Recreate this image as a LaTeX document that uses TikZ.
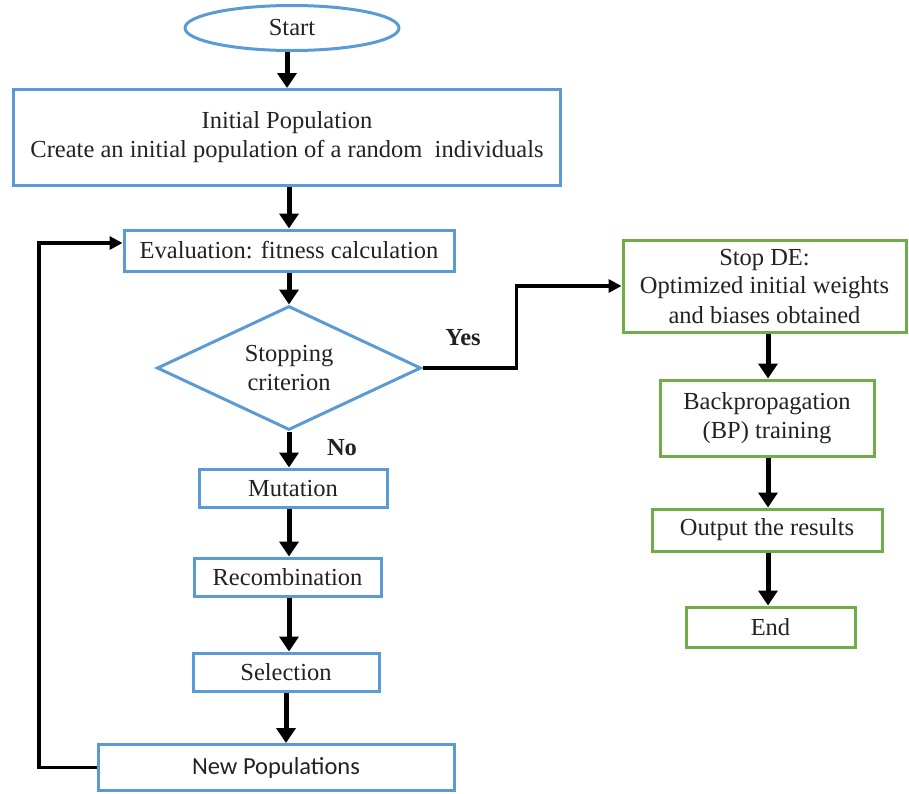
\documentclass[tikz,border=0pt]{standalone}
\usepackage{fontspec}
\setmainfont{Liberation Serif}
\newfontfamily\calib{Carlito}
\usetikzlibrary{arrows.meta,shapes.geometric}
\definecolor{bblue}{HTML}{5B9BD5}
\definecolor{bgreen}{HTML}{70AD47}
\definecolor{txt}{HTML}{222222}
\tikzset{
  box/.style={draw=bblue, line width=3pt, rectangle, inner sep=0pt, align=center, text=txt,
    font=\fontsize{24.5}{29}\selectfont},
  gbox/.style={box, draw=bgreen},
  bigarrow/.style={line width=5pt, -{Triangle[width=19pt,length=15pt]}},
  thinarrow/.style={line width=3.5pt, -{Triangle[width=13pt,length=13pt]}},
  lbl/.style={font=\fontsize{24.5}{29}\selectfont\bfseries, text=txt, inner sep=0pt}
}
\begin{document}
\begin{tikzpicture}[x=1pt,y=-1pt]
\useasboundingbox (0,0) rectangle (909,793);
\node[box, ellipse, minimum width=214, minimum height=45] (start) at (292,28) {Start};
\node[box, minimum width=547, minimum height=96] (ip) at (287,137.5) {Initial Population\\Create an initial population of a random \ individuals};
\node[box, minimum width=330, minimum height=41] (eval) at (289,250.5) {Evaluation: fitness calculation};
\node[box, diamond, aspect=2.13, minimum width=264, minimum height=124] (dec) at (289,368) {Stopping\\criterion};
\node[box, minimum width=188, minimum height=38] (mut) at (293,488) {Mutation};
\node[box, minimum width=187, minimum height=38] (rec) at (287.5,577) {Recombination};
\node[box, minimum width=186, minimum height=38] (sel) at (286,672) {Selection};
\node[box, minimum width=356, minimum height=46, font=\fontsize{24.5}{29}\calib] (newp) at (276,767.5) {New Populations};
\node[gbox, minimum width=283, minimum height=92] (stop) at (764.5,286) {Stop DE:\\Optimized initial weights\\and biases obtained};
\node[gbox, minimum width=214, minimum height=76] (bp) at (767,418) {Backpropagation\\(BP) training};
\node[gbox, minimum width=230, minimum height=42] (out) at (767,530) {Output the results};
\node[gbox, minimum width=169, minimum height=40] (end) at (770.5,627) {End};
\node[lbl] (yes) at (463,338) {Yes};
\node[lbl] (no) at (342,448) {No};
\coordinate (lp) at (39,243);
\draw[bigarrow] (start.south -| 287,0) -- (287,0 |- ip.north);
\draw[bigarrow] (ip.south -| 289,0) -- (289,0 |- eval.north);
\draw[bigarrow] (eval.south) -- (dec.north);
\draw[bigarrow] (dec.south) -- (dec.south |- mut.north);
\draw[bigarrow] (mut.south -| 289,0) -- (289,0 |- rec.north);
\draw[bigarrow] (rec.south -| 289,0) -- (289,0 |- sel.north);
\draw[bigarrow] (sel.south) -- (sel.south |- newp.north);
\draw[bigarrow] (stop.south -| 768,0) -- (768,0 |- bp.north);
\draw[bigarrow] (bp.south -| 768,0) -- (768,0 |- out.north);
\draw[bigarrow] (out.south -| 768,0) -- (768,0 |- end.north);
\draw[thinarrow] (dec.east) -- ++(94,0) |- (stop.west);
\draw[thinarrow] (newp.west) -| (lp) -- (lp -| eval.west);
\end{tikzpicture}
\end{document}
